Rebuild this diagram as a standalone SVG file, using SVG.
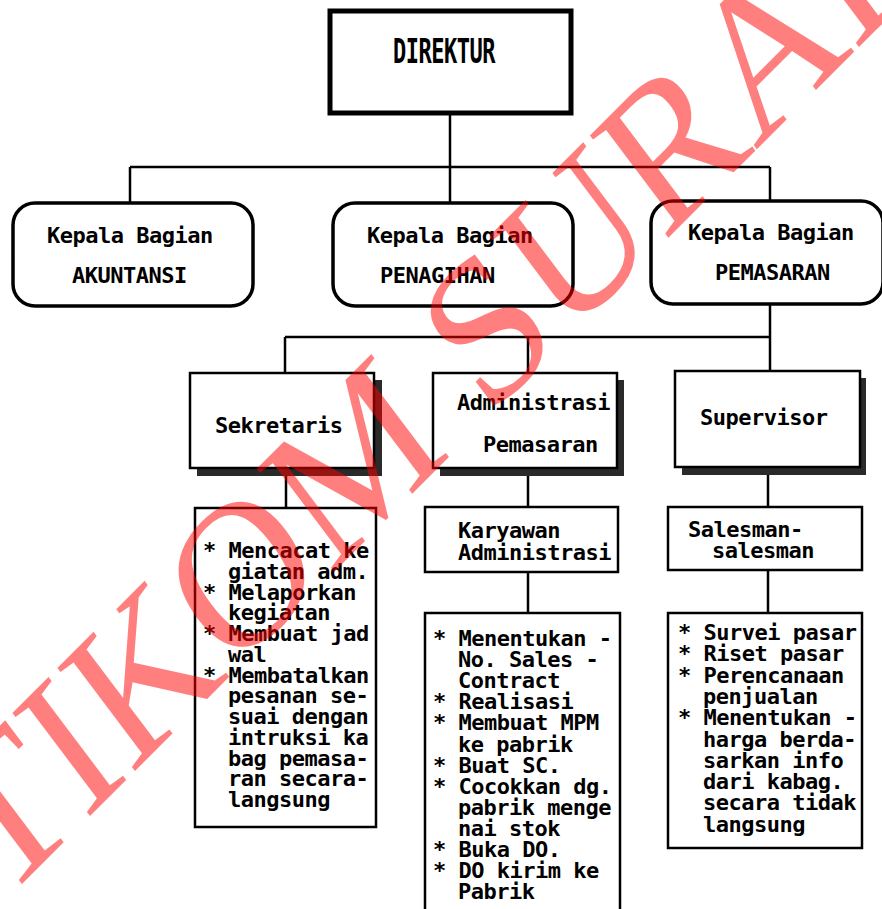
<svg xmlns="http://www.w3.org/2000/svg" width="882" height="909" viewBox="0 0 882 909" xml:space="preserve">
<style>
.t{font-family:"DejaVu Sans Mono","Liberation Mono",monospace;font-weight:bold;font-size:22px;letter-spacing:-0.5px;fill:#000}
.box{fill:#fff;stroke:#000;stroke-width:2.5}
.sh{fill:#2a2a2a}
.ln{fill:none;stroke:#000;stroke-width:2.5}
.wm{font-family:"Liberation Serif","Times New Roman",serif;font-size:195px;fill:#ff0000;opacity:0.5}
</style>
<rect width="882" height="909" fill="#fff"/>
<g id="connectors">
<line class="ln" x1="450" y1="113" x2="450" y2="203" stroke-width="3"/>
<line class="ln" x1="130" y1="167" x2="770" y2="167"/>
<line class="ln" x1="130" y1="167" x2="130" y2="203"/>
<line class="ln" x1="770" y1="167" x2="770" y2="202"/>
<line class="ln" x1="770" y1="304" x2="770" y2="371"/>
<line class="ln" x1="285" y1="337" x2="770" y2="337"/>
<line class="ln" x1="285" y1="337" x2="285" y2="373"/>
<line class="ln" x1="528" y1="337" x2="528" y2="373"/>
<line class="ln" x1="286" y1="468" x2="286" y2="508"/>
<line class="ln" x1="528" y1="468" x2="528" y2="507"/>
<line class="ln" x1="528" y1="572" x2="528" y2="613"/>
<line class="ln" x1="768" y1="468" x2="768" y2="507"/>
<line class="ln" x1="768" y1="570" x2="768" y2="613"/>
</g>
<g id="direktur">
<rect x="330" y="11" width="241" height="102" fill="#fff" stroke="#000" stroke-width="5"/>
<text class="t" transform="translate(393,63) scale(1,1.55)">DIREKTUR</text>
</g>
<g id="kabag-akuntansi">
<rect x="13" y="203" width="240" height="103" rx="22" fill="#fff" stroke="#000" stroke-width="3.5"/>
<text class="t" x="47" y="243">Kepala Bagian</text>
<text class="t" x="72" y="283">AKUNTANSI</text>
</g>
<g id="kabag-penagihan">
<rect x="333" y="203" width="240" height="103" rx="22" fill="#fff" stroke="#000" stroke-width="3.5"/>
<text class="t" x="367" y="243">Kepala Bagian</text>
<text class="t" x="380" y="283">PENAGIHAN</text>
</g>
<g id="kabag-pemasaran">
<rect x="651" y="201" width="232" height="103" rx="22" fill="#fff" stroke="#000" stroke-width="3.5"/>
<text class="t" x="688" y="240">Kepala Bagian</text>
<text class="t" x="715" y="280">PEMASARAN</text>
</g>
<g id="sekretaris">
<rect class="sh" x="197" y="380" width="185" height="96"/>
<rect class="box" x="190" y="373" width="184" height="95"/>
<text class="t" x="215" y="433">Sekretaris</text>
</g>
<g id="administrasi-pemasaran">
<rect class="sh" x="440" y="380" width="184" height="96"/>
<rect class="box" x="433" y="373" width="184" height="95"/>
<text class="t" x="457" y="410">Administrasi</text>
<text class="t" x="483" y="452">Pemasaran</text>
</g>
<g id="supervisor">
<rect class="sh" x="682" y="378" width="184" height="97"/>
<rect class="box" x="675" y="371" width="185" height="96"/>
<text class="t" x="700" y="425">Supervisor</text>
</g>
<g id="tugas-sekretaris">
<rect class="box" x="195" y="508" width="181" height="319"/>
<text class="t" x="203" y="558">* Mencacat ke</text>
<text class="t" x="228" y="578.75">giatan adm.</text>
<text class="t" x="203" y="599.5">* Melaporkan</text>
<text class="t" x="228" y="620.25">kegiatan</text>
<text class="t" x="203" y="641">* Membuat jad</text>
<text class="t" x="228" y="661.75">wal</text>
<text class="t" x="203" y="682.5">* Membatalkan</text>
<text class="t" x="228" y="703.25">pesanan se-</text>
<text class="t" x="228" y="724">suai dengan</text>
<text class="t" x="228" y="744.75">intruksi ka</text>
<text class="t" x="228" y="765.5">bag pemasa-</text>
<text class="t" x="228" y="786.25">ran secara-</text>
<text class="t" x="228" y="807">langsung</text>
</g>
<g id="karyawan-administrasi">
<rect class="box" x="425" y="507" width="193" height="65"/>
<text class="t" x="458" y="538">Karyawan</text>
<text class="t" x="458" y="560">Administrasi</text>
</g>
<g id="tugas-karyawan">
<rect class="box" x="425" y="613" width="195" height="310"/>
<text class="t" x="433" y="646">* Menentukan -</text>
<text class="t" x="458" y="667.1">No. Sales  -</text>
<text class="t" x="458" y="688.2">Contract</text>
<text class="t" x="433" y="709.3">* Realisasi</text>
<text class="t" x="433" y="730.4">* Membuat MPM</text>
<text class="t" x="458" y="751.5">ke pabrik</text>
<text class="t" x="433" y="772.6">* Buat SC.</text>
<text class="t" x="433" y="793.7">* Cocokkan dg.</text>
<text class="t" x="458" y="814.8">pabrik menge</text>
<text class="t" x="458" y="835.9">nai stok</text>
<text class="t" x="433" y="857">* Buka DO.</text>
<text class="t" x="433" y="878.1">* DO kirim ke</text>
<text class="t" x="458" y="899.2">Pabrik</text>
</g>
<g id="salesman">
<rect class="box" x="668" y="507" width="194" height="63"/>
<text class="t" x="688" y="537">Salesman-</text>
<text class="t" x="712" y="558">salesman</text>
</g>
<g id="tugas-salesman">
<rect class="box" x="668" y="613" width="194" height="235"/>
<text class="t" x="678" y="640">* Survei pasar</text>
<text class="t" x="678" y="661.3">* Riset pasar</text>
<text class="t" x="678" y="682.6">* Perencanaan</text>
<text class="t" x="703" y="703.9">penjualan</text>
<text class="t" x="678" y="725.2">* Menentukan -</text>
<text class="t" x="703" y="746.5">harga berda-</text>
<text class="t" x="703" y="767.8">sarkan info</text>
<text class="t" x="703" y="789.1">dari kabag.</text>
<text class="t" x="703" y="810.4">secara tidak</text>
<text class="t" x="703" y="831.7">langsung</text>
</g>
<g id="watermark">
<text class="wm" transform="translate(108,798) rotate(-45) skewX(-8)" x="-260" y="0">STIKOM SURABAYA</text>
</g>
</svg>
